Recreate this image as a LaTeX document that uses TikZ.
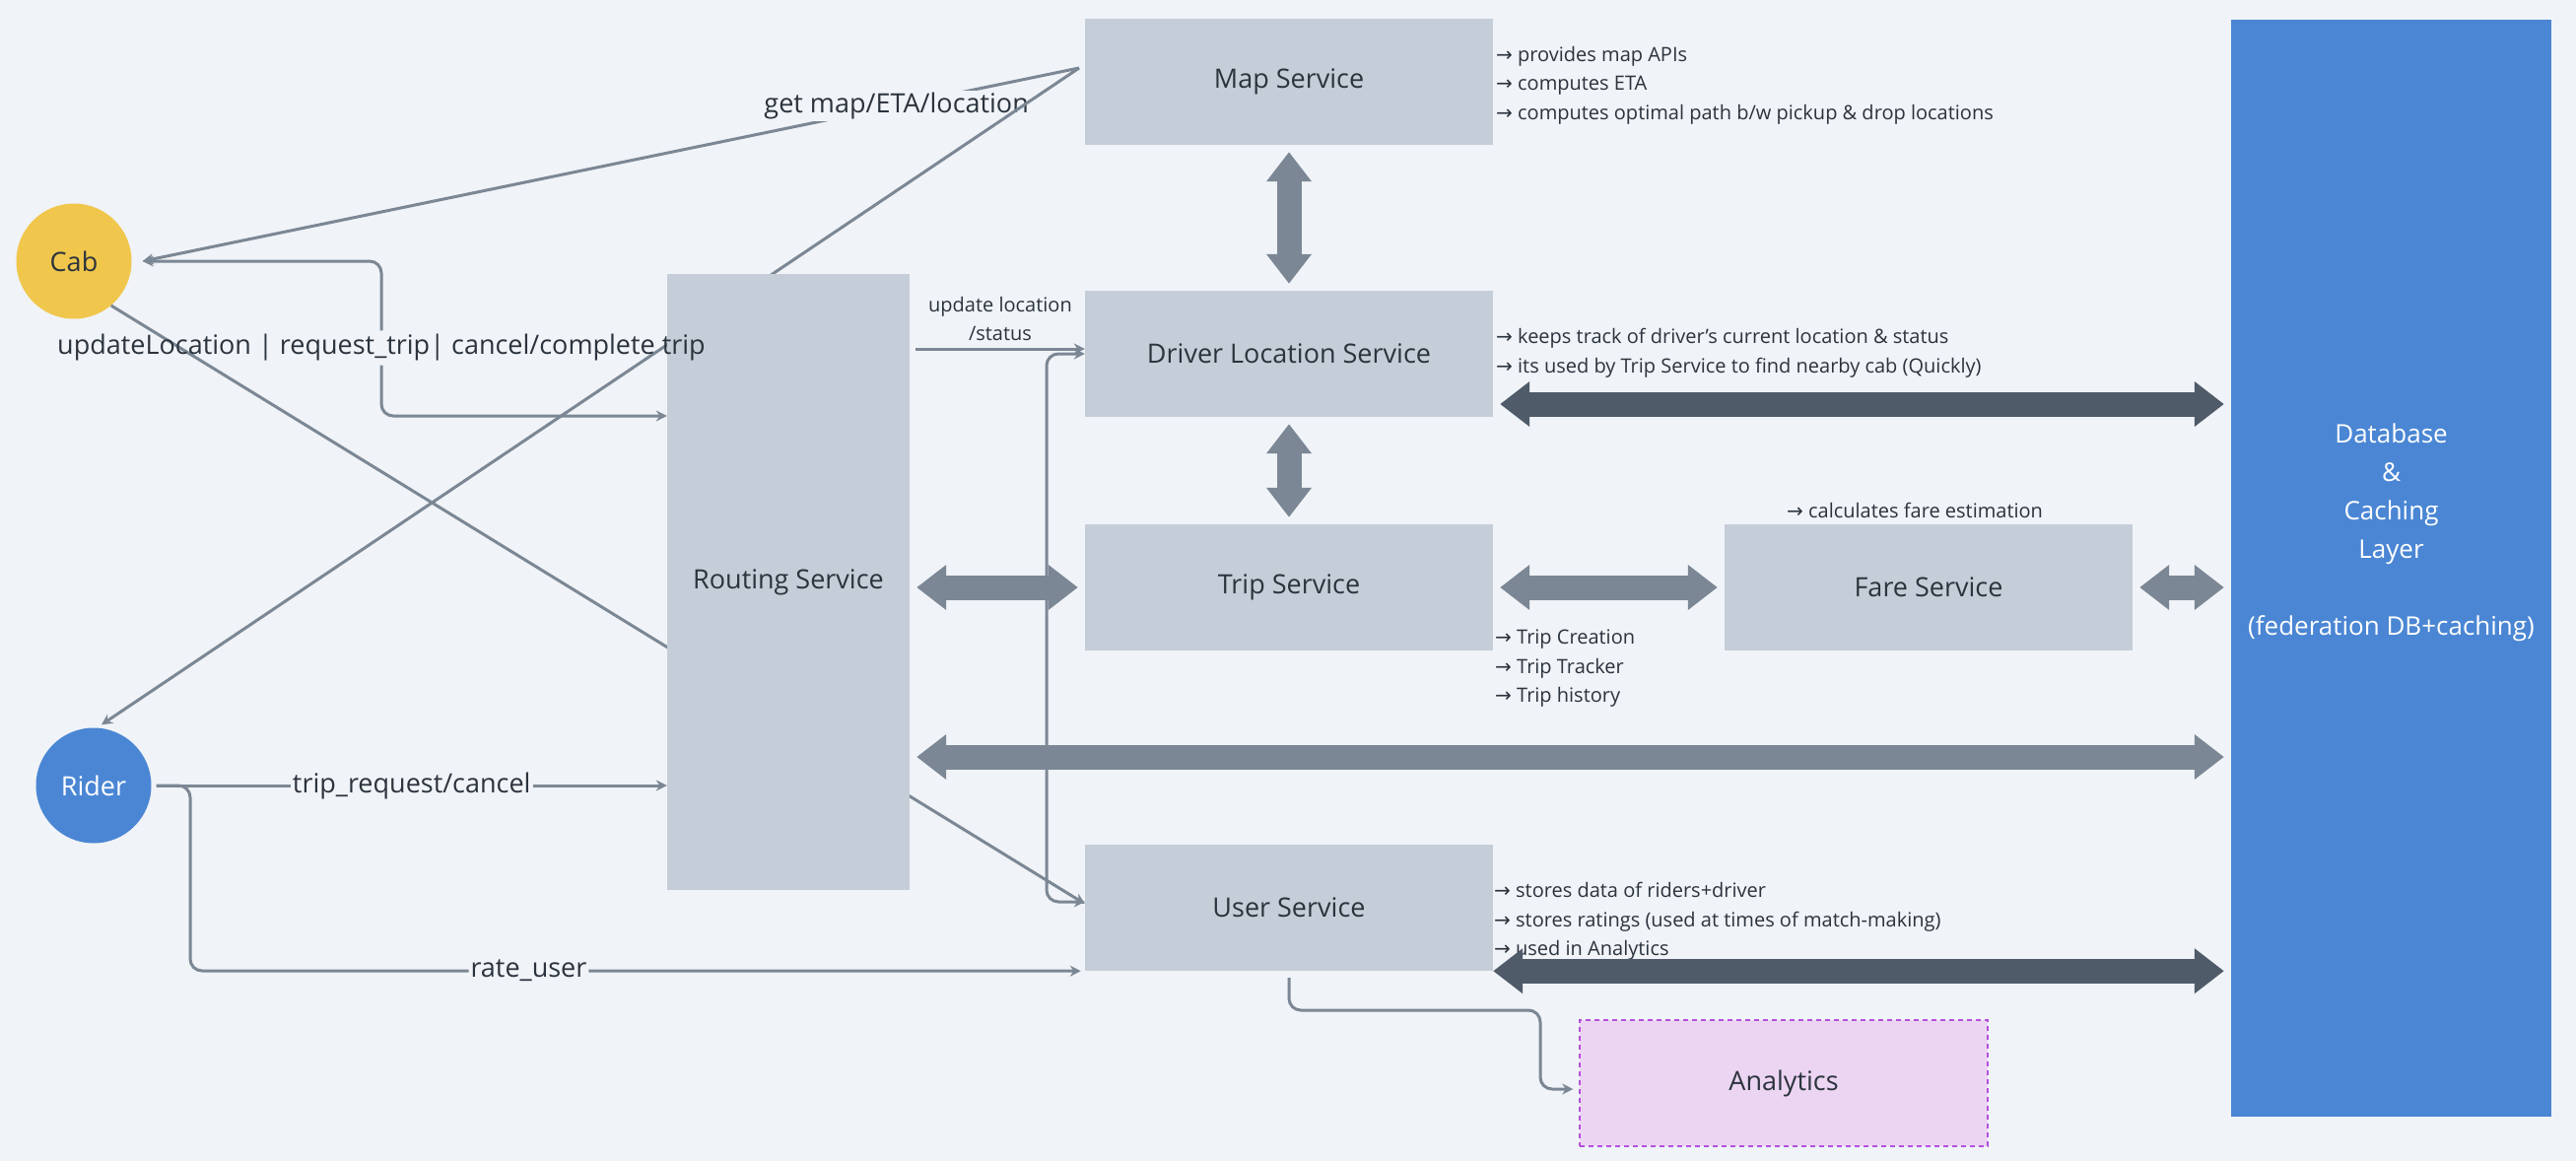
\documentclass[tikz,border=0pt]{standalone}
\usepackage{fontspec}
\setmainfont{Open Sans}
\newfontfamily\arrfont{DejaVu Sans}
\usetikzlibrary{arrows.meta,positioning,calc}

\pgfdeclarelayer{back}
\pgfdeclarelayer{front}
\pgfdeclarelayer{top}
\pgfsetlayers{back,main,front,top}

\definecolor{bgcol}{HTML}{F0F3F7}
\definecolor{boxcol}{HTML}{C5CED8}
\definecolor{cabcol}{HTML}{F0C64C}
\definecolor{bluecol}{HTML}{4A86D4}
\definecolor{linecol}{HTML}{7B8794}
\definecolor{darkcol}{HTML}{4F5B69}
\definecolor{txtcol}{HTML}{2B333D}
\definecolor{anafill}{HTML}{ECD5F2}
\definecolor{anaedge}{HTML}{B450DC}

\newcommand{\notearr}{{\arrfont →}\ }

\tikzset{
	service/.style={rectangle, fill=boxcol, minimum width=414pt, minimum height=128pt, inner sep=0pt, font=\fontsize{27}{32}\selectfont},
	actor/.style={circle, minimum size=117pt, inner sep=0pt, font=\fontsize{27}{32}\selectfont},
	conn/.style={draw=linecol, line width=3pt, >={Stealth[length=11pt,width=11pt]}, ->},
	fat/.style={draw=linecol, line width=25pt, {Triangle[length=30pt,width=44pt]}-{Triangle[length=30pt,width=44pt]}, shorten <=7pt, shorten >=7pt},
	lbl/.style={fill=bgcol, inner sep=2pt, font=\fontsize{27}{32}\selectfont},
	note/.style={anchor=north west, align=left, inner sep=0pt, font=\fontsize{20}{29.5}\selectfont}
}

\begin{document}
\begin{tikzpicture}[x=1pt, y=-1pt, text=txtcol]
		\useasboundingbox (0,0) rectangle (2614,1178);
		\begin{pgfonlayer}{back}
			\fill[bgcol] (0,0) rectangle (2614,1178);
		\end{pgfonlayer}
		
		%services
		\node[service] (map) at (1308,83) {Map Service};
		\node[service] (driver) at (1308,359) {Driver Location Service};
		\node[service] (trip) at (1308,596) {Trip Service};
		\node[service] (user) at (1308,921) {User Service};
		\node[service] (fare) at (1957,596) {Fare Service};
		\node[service, fill=anafill, draw=anaedge, line width=1.5pt, dash pattern=on 5pt off 4pt] (analytics) at (1810,1099) {Analytics};
		\begin{pgfonlayer}{front}
			\node[service, minimum width=246pt, minimum height=625pt] (routing) at (800,590.5) {Routing Service};
		\end{pgfonlayer}
		
		%clients
		\node[actor, fill=cabcol] (cab) at (75,265) {Cab};
		\node[actor, fill=bluecol, text=white] (rider) at (95,797) {Rider};
		
		%storage
		\node[rectangle, fill=bluecol, minimum width=325pt, minimum height=1113pt, inner sep=0pt] (db) at (2426.5,576.5) {};
		\node[align=center, text=white, font=\fontsize{26}{39}\selectfont] (dbtext) at (2426.5,540) {Database\\\&\\Caching\\ Layer\\[39pt](federation DB+caching)};
		
		%notes
		\node[note] (mapnote) at (1518,47) {\notearr provides map APIs\\\notearr computes ETA\\\notearr computes optimal path b/w pickup \& drop locations};
		\node[note] (drivernote) at (1518,333) {\notearr keeps track of driver’s current location \& status\\\notearr its used by Trip Service to find nearby cab (Quickly)};
		\node[note] (tripnote) at (1517,639) {\notearr Trip Creation\\\notearr Trip Tracker\\\notearr Trip history};
		\node[note] (farenote) at (1813,510) {\notearr calculates fare estimation};
		\node[note] (usernote) at (1516,895) {\notearr stores data of riders+driver\\\notearr stores ratings (used at times of match-making)\\\notearr used in Analytics};
		
		\coordinate (mapin) at (1095,69);
		\coordinate (cabbend) at (386,422);
		\coordinate (ratebend) at (193,985);
		\coordinate (dlbend) at (1062,915);
		\coordinate (anabend) at (1563,1025);
		\coordinate (upd) at ([yshift=5pt]driver.west);
		\coordinate (rdb) at ([yshift=-177.5pt]routing.east);
		\coordinate (ddb) at ([yshift=-51pt]driver.east);
		
		%fat arrows
		\draw[fat] (map) -- (driver);
		\draw[fat] (driver) -- (trip);
		\draw[fat] (trip) -- (fare);
		\draw[fat] (fare.east) -- (fare.east -| db.west);
		\draw[fat] (routing.east |- trip.west) -- (trip.west);
		\draw[fat] (rdb) -- (rdb -| db.west);
		\draw[fat, draw=darkcol] (ddb) -- (ddb -| db.west);
		\draw[fat, draw=darkcol, shorten <=0pt] (user.south east) -- (user.south east -| db.west);
		
		%requests
		\draw[conn] (mapin) -- node[lbl, pos=0.195]{get map/ETA/location} ([xshift=11pt]cab.east);
		\begin{pgfonlayer}{top}
			\node[inner sep=4pt, font=\fontsize{27}{32}\selectfont] (updlbl) at (387,353) {updateLocation | request\_trip| cancel/complete trip};
		\end{pgfonlayer}
		\draw[conn, <-, rounded corners=12pt] ([xshift=11pt]cab.east) -| (updlbl.north);
		\draw[conn, rounded corners=12pt] (updlbl.south) |- (routing.west |- cabbend);
		\draw[conn] ([xshift=5pt]rider.east) -- node[lbl]{trip\_request/cancel} (routing.west |- rider.east);
		\draw[conn, rounded corners=12pt] ([xshift=5pt]rider.east) -| (ratebend) -- node[lbl, pos=0.38]{rate\_user} ([xshift=-4pt]user.south west);
		\draw[conn] ($(routing.east |- upd)+(6,0)$) -- node[above=3pt, align=center, font=\fontsize{20}{29}\selectfont]{update location\\/status} (upd);
		\draw[conn, <->, rounded corners=12pt] (driver.west) -| (dlbend) -- ([yshift=6pt]user.west);
		\draw[conn, rounded corners=12pt] ([yshift=-7pt]user.south) |- (anabend) |- ([xshift=-6pt,yshift=-6pt]analytics.west);
		
		%crossing lines (behind routing)
		\draw[conn] (mapin) -- ([xshift=8pt,yshift=3pt]rider.north);
		\draw[conn] (cab.-50) -- ([yshift=4pt]user.west);
\end{tikzpicture}
\end{document}
